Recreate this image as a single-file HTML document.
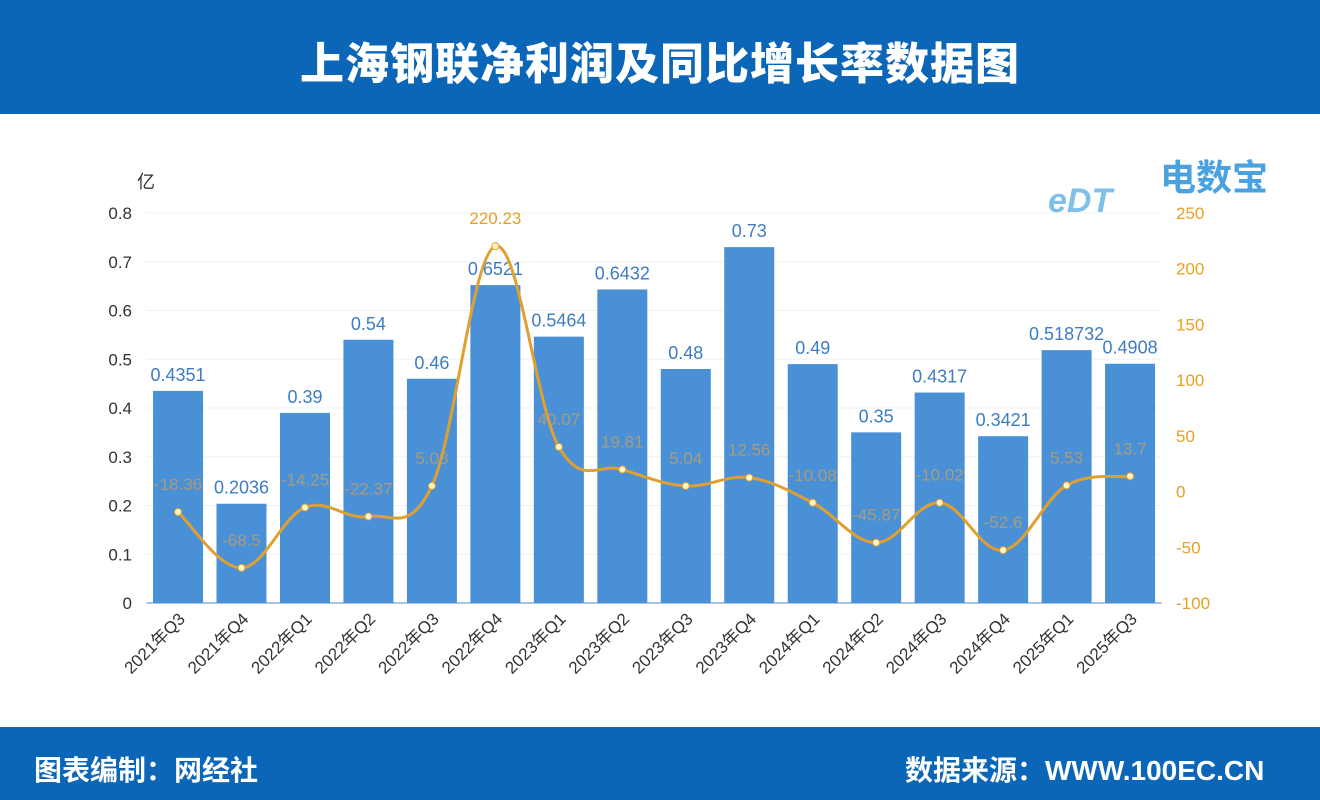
<!DOCTYPE html>
<html><head><meta charset="utf-8">
<style>
body{margin:0;width:1320px;height:800px;overflow:hidden;background:#fff;font-family:"Liberation Sans","Noto Sans CJK SC",sans-serif;}
#hdr{position:absolute;left:0;top:0;width:1320px;height:114px;background:#0b66b7;}
#title{position:absolute;left:0;top:28px;width:1320px;text-align:center;color:#fff;font-size:44px;font-weight:900;letter-spacing:1px;font-family:"Noto Sans CJK SC",sans-serif;}
#ftr{position:absolute;left:0;top:727px;width:1320px;height:73px;background:#0b66b7;}
.ft{position:absolute;top:749px;color:#fff;font-size:28px;font-weight:bold;font-family:"Liberation Sans","Noto Sans CJK SC",sans-serif;}
svg{position:absolute;left:0;top:0;}
</style></head><body>
<div id="hdr"></div>
<div id="title">上海钢联净利润及同比增长率数据图</div>
<div id="ftr"></div>
<div class="ft" style="left:34px">图表编制：网经社</div>
<div class="ft" style="left:905px">数据来源：WWW.100EC.CN</div>
<svg id="chart" width="1320" height="800"></svg>
<script>
const categories=["2021年Q3","2021年Q4","2022年Q1","2022年Q2","2022年Q3","2022年Q4","2023年Q1","2023年Q2","2023年Q3","2023年Q4","2024年Q1","2024年Q2","2024年Q3","2024年Q4","2025年Q1","2025年Q3"];
const profit=[0.4351,0.2036,0.39,0.54,0.46,0.6521,0.5464,0.6432,0.48,0.73,0.49,0.35,0.4317,0.3421,0.518732,0.4908];
const growth=[-18.36,-68.5,-14.25,-22.37,5.08,220.23,40.07,19.81,5.04,12.56,-10.08,-45.87,-10.02,-52.6,5.53,13.7];
const growthLabels=["-18.36","-68.5","-14.25","-22.37","5.08","220.23","40.07","19.81","5.04","12.56","-10.08","-45.87","-10.02","-52.6","5.53","13.7"];
const leftTicks=[0,0.1,0.2,0.3,0.4,0.5,0.6,0.7,0.8];
const rightTicks=[-100,-50,0,50,100,150,200,250];

const NS="http://www.w3.org/2000/svg";
const svg=document.getElementById('chart');
const X0=146.3,X1=1161.8,Y0=603,Y1=213;
const bw=(X1-X0)/categories.length;
const xc=i=>X0+bw*(i+0.5);
const yL=v=>Y0-(v-0)/(0.8-0)*(Y0-Y1);
const yR=v=>Y0-(v+100)/350*(Y0-Y1);
function mk(tag,attrs,parent){const e=document.createElementNS(NS,tag);for(const k in attrs)e.setAttribute(k,attrs[k]);(parent||svg).appendChild(e);return e;}

leftTicks.forEach(t=>{
  const g=mk('line',{x1:X0,x2:X1,y1:yL(t),y2:yL(t),stroke:t===0?'#8ab4dc':'#eef0f4','stroke-width':t===0?1.5:1});
  
  
  const tx=mk('text',{x:132,y:yL(t)+6,'text-anchor':'end','font-size':17,fill:'#333'});
  tx.textContent=String(t);
  
  
});
rightTicks.forEach(t=>{
  const tx=mk('text',{x:1176,y:yR(t)+6,'text-anchor':'start','font-size':17,fill:'#e8a020'});
  tx.textContent=String(t);
  
  
});
const unit=mk('text',{x:137,y:188,'font-size':18,fill:'#333'});
unit.textContent='亿';



profit.forEach((v,i)=>{
  const r=mk('rect',{x:xc(i)-25,y:yL(v),width:50,height:Y0-yL(v),fill:'#4a90d6'});
  
  
  const t=mk('text',{x:xc(i),y:yL(v)-10,'text-anchor':'middle','font-size':18,fill:'#3d7cc2'});
  t.textContent=String(v);
  
  
});
categories.forEach((c,i)=>{
  const t=mk('text',{x:xc(i)+8,y:620,'text-anchor':'end','font-size':17,fill:'#333',transform:`rotate(-45 ${xc(i)+8} 620)`});
  t.textContent=c;
  
  
});
const pts=growth.map((v,i)=>[xc(i),yR(v)]);
let d=`M${pts[0][0]},${pts[0][1]}`;
for(let i=0;i<pts.length-1;i++){
  const p0=pts[i-1]||pts[i],p1=pts[i],p2=pts[i+1],p3=pts[i+2]||p2;
  const s=0.18;
  d+=` C${p1[0]+(p2[0]-p0[0])*s},${p1[1]+(p2[1]-p0[1])*s} ${p2[0]-(p3[0]-p1[0])*s},${p2[1]-(p3[1]-p1[1])*s} ${p2[0]},${p2[1]}`;
}
const ln=mk('path',{d:d,fill:'none',stroke:'#e0a030','stroke-width':3});


pts.forEach((p,i)=>{
  const c=mk('circle',{cx:p[0],cy:p[1],r:3.5,fill:'#fff6c8',stroke:'#e0a030','stroke-width':1});
  
  
  const t=mk('text',{x:p[0],y:p[1]-22,'text-anchor':'middle','font-size':17,fill:i===5?'#e8a020':'#c8a060','fill-opacity':i===5?1:0.75});
  t.textContent=growthLabels[i];
  
  
});
const lg=mk('text',{x:1160,y:190,'font-size':36,'font-weight':'bold',fill:'#4aa3e0','font-family':'Noto Sans CJK SC'});
lg.textContent='电数宝';


const lg2=mk('text',{x:1048,y:212,'font-size':34,'font-weight':'bold',fill:'#7fc0ea','font-style':'italic'});
lg2.textContent='eDT';


</script>
</body></html>
